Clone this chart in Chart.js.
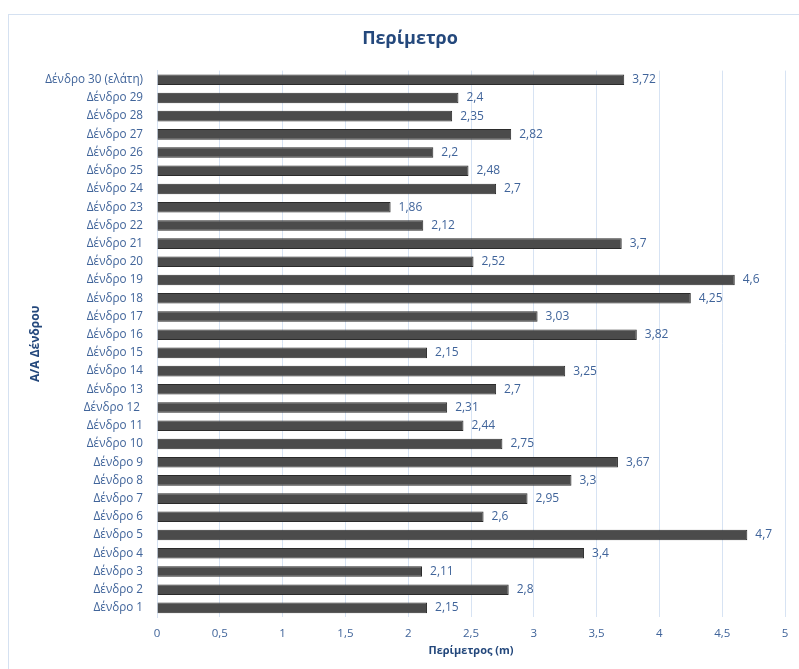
<!DOCTYPE html>
<html>
<head>
<meta charset="utf-8">
<script src="https://cdn.jsdelivr.net/npm/chart.js@4"></script>
<style>
  html, body { margin: 0; padding: 0; background: #fff; }
  #frame {
    position: absolute; left: 8px; top: 14px; width: 791px; height: 655px;
    border-top: 1px solid #d5e1f1; border-left: 1px solid #d5e1f1;
  }
  #chart { display: block; }
</style>
</head>
<body>
<div id="frame"><canvas id="chart" width="790" height="654"></canvas></div>
<script>
const FONT  = "'Open Sans', 'Noto Sans', sans-serif";
const BLUE  = '#40649a';
const TITLE = '#24487c';
const GRID  = '#d7e3f3';

// ── Δεδομένα ──────────────────────────────────────────────────────────────────
const trees = [
  'Δένδρο 1', 'Δένδρο 2', 'Δένδρο 3', 'Δένδρο 4', 'Δένδρο 5', 'Δένδρο 6',
  'Δένδρο 7', 'Δένδρο 8', 'Δένδρο 9', 'Δένδρο 10', 'Δένδρο 11', 'Δένδρο 12 ',
  'Δένδρο 13', 'Δένδρο 14', 'Δένδρο 15', 'Δένδρο 16', 'Δένδρο 17', 'Δένδρο 18',
  'Δένδρο 19', 'Δένδρο 20', 'Δένδρο 21', 'Δένδρο 22', 'Δένδρο 23', 'Δένδρο 24',
  'Δένδρο 25', 'Δένδρο 26', 'Δένδρο 27', 'Δένδρο 28', 'Δένδρο 29', 'Δένδρο 30 (ελάτη)',
];
const perimeter = [
  2.15, 2.8, 2.11, 3.4, 4.7, 2.6, 2.95, 3.3, 3.67, 2.75,
  2.44, 2.31, 2.7, 3.25, 2.15, 3.82, 3.03, 4.25, 4.6, 2.52,
  3.7, 2.12, 1.86, 2.7, 2.48, 2.2, 2.82, 2.35, 2.4, 3.72,
];

const comma = v => String(v).replace('.', ',');

// ── Ετικέτες τιμών δεξιά από κάθε μπάρα ───────────────────────────────────────
const valueLabels = {
  id: 'valueLabels',
  afterDatasetsDraw(chart) {
    const { ctx } = chart;
    const meta = chart.getDatasetMeta(0);
    ctx.save();
    ctx.font = `12px ${FONT}`;
    ctx.fillStyle = BLUE;
    ctx.textAlign = 'left';
    ctx.textBaseline = 'middle';
    meta.data.forEach((bar, i) => {
      ctx.fillText(comma(perimeter[i]), bar.x + 8, bar.y);
    });
    ctx.restore();
  },
};

new Chart(document.getElementById('chart'), {
  type: 'bar',
  data: {
    labels: trees,
    datasets: [{
      label: 'Περίμετρος',
      data: perimeter,
      backgroundColor: '#4b4b4b',
      borderColor: '#2b2b2b',
      borderWidth: 1,
      borderSkipped: 'start',
      barPercentage: 0.58,
      categoryPercentage: 1,
    }],
  },
  options: {
    indexAxis: 'y',
    responsive: false,
    animation: false,
    layout: { padding: { top: 0, right: 14, bottom: 0, left: 26 } },
    plugins: {
      legend: { display: false },
      tooltip: { enabled: false },
      title: {
        display: true,
        text: 'Περίμετρο',
        color: TITLE,
        font: { family: FONT, size: 18, weight: 'bold' },
        padding: { top: 13, bottom: 21 },
      },
    },
    scales: {
      x: {
        min: 0, max: 5,
        ticks: {
          stepSize: 0.5, color: BLUE, padding: 10,
          font: { family: FONT, size: 11.5 },
          callback: v => comma(v),
        },
        grid: { color: GRID, drawTicks: false },
        border: { display: false },
        title: {
          display: true, text: 'Περίμετρος (m)', color: TITLE,
          font: { family: FONT, size: 11, weight: 'bold' },
          padding: { top: 4, bottom: 12 },
        },
        afterFit: s => { s.height = 52; },
      },
      y: {
        reverse: true,
        ticks: { color: BLUE, padding: 14, font: { family: FONT, size: 11.7 }, autoSkip: false },
        grid: { display: false, drawTicks: false },
        border: { color: GRID },
        title: {
          display: true, text: 'Α/Α Δένδρου', color: TITLE,
          font: { family: FONT, size: 12, weight: 'bold' },
          padding: { top: -7 },
        },
        afterFit: s => { s.width = 122; },
      },
    },
  },
  plugins: [valueLabels],
});
</script>
</body>
</html>
